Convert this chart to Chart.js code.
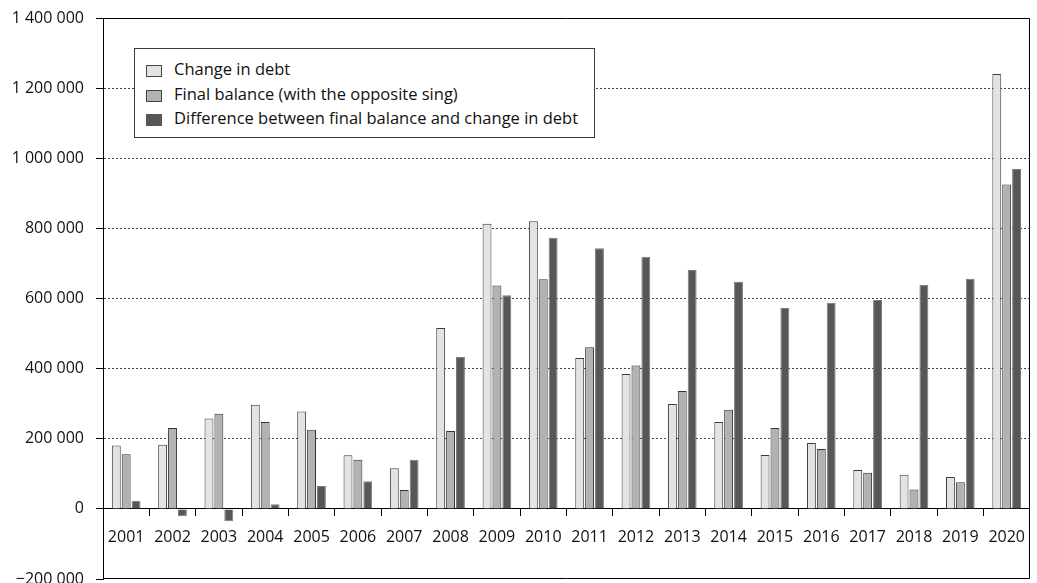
<!DOCTYPE html>
<html>
<head>
<meta charset="utf-8">
<script src="https://cdn.jsdelivr.net/npm/chart.js@4.4.1/dist/chart.umd.min.js"></script>
<style>
  html, body { margin: 0; padding: 0; background: #fff; }
  #wrap { position: relative; width: 1037px; height: 583px; }
  canvas { display: block; }
  #legend {
    position: absolute; left: 134px; top: 48px; width: 459px; height: 88px;
    border: 1px solid #3a3a3a; background: #fff;
    font-family: "Open Sans", sans-serif; font-size: 16.5px; color: #111;
  }
  .item { position: absolute; left: 11px; height: 20px; line-height: 20px; white-space: nowrap; }
  .mk { position: absolute; left: 0; top: 5px; width: 14px; height: 10px; border: 1px solid #444; box-sizing: content-box; }
  .tx { position: absolute; left: 28px; top: -1px; }
</style>
</head>
<body>
<div id="wrap">
  <canvas id="c" width="1037" height="583"></canvas>
  <div id="legend"></div>
</div>
<script>
const years = ["2001","2002","2003","2004","2005","2006","2007","2008","2009","2010",
               "2011","2012","2013","2014","2015","2016","2017","2018","2019","2020"];
const seriesNames = ["Change in debt", "Final balance (with the opposite sing)", "Difference between final balance and change in debt"];
const changeInDebt = [181000, 183000, 258000, 297000, 278000, 153000, 116000, 516000, 813000, 820000,
                      430000, 385000, 299000, 248000, 154000, 188000, 111000, 97000, 91000, 1240000];
const finalBalance = [156000, 231000, 271000, 248000, 226000, 140000, 54000, 222000, 637000, 655000,
                      461000, 409000, 336000, 283000, 231000, 171000, 103000, 55000, 76000, 925000];
const difference = [23000, -21000, -35000, 13000, 65000, 79000, 140000, 434000, 609000, 773000,
                    743000, 719000, 681000, 648000, 573000, 588000, 596000, 639000, 656000, 969000];
const yMin = -200000, yMax = 1400000, yStep = 200000;

const fills = ["#e3e3e3", "#b2b2b2", "#575757"];
const borders = ["#3c3c3c", "#333333", "#7a7a7a"];
const FONT = "'Open Sans', sans-serif";

function fmt(v) {
  const s = Math.abs(v).toString().replace(/\B(?=(\d{3})+(?!\d))/g, " ");
  return (v < 0 ? "\u2212" : "") + s;
}

const boxPlugin = {
  id: "box",
  afterDraw(chart) {
    const a = chart.chartArea, ctx = chart.ctx;
    ctx.save();
    ctx.strokeStyle = "#000";
    ctx.lineWidth = 1;
    const l = Math.round(a.left) + 0.5, r = Math.round(a.right) - 0.5;
    const t = Math.round(a.top) + 0.5, b = Math.round(a.bottom) - 0.5;
    ctx.beginPath();
    ctx.moveTo(l, t); ctx.lineTo(r, t); ctx.lineTo(r, b); ctx.lineTo(l, b);
    ctx.stroke();
    ctx.restore();
  }
};

const datasets = [changeInDebt, finalBalance, difference].map((d, i) => ({
  label: seriesNames[i],
  data: d,
  backgroundColor: fills[i],
  borderColor: borders[i],
  borderWidth: 1,
  categoryPercentage: 0.64,
  barPercentage: 0.9
}));

new Chart(document.getElementById("c"), {
  type: "bar",
  data: { labels: years, datasets },
  options: {
    responsive: false,
    animation: false,
    layout: { padding: { top: 18, bottom: 4, left: 0, right: 1 } },
    plugins: { legend: { display: false }, tooltip: { enabled: false } },
    scales: {
      x: {
        position: { y: 0 },
        offset: true,
        grid: { display: true, drawOnChartArea: false, drawTicks: true, tickLength: 7, offset: true, color: "#000", tickColor: "#000" },
        border: { display: true, color: "#000", width: 1 },
        ticks: { color: "#111", font: { family: FONT, size: 16 }, padding: 12, maxRotation: 0, autoSkip: false }
      },
      y: {
        min: yMin, max: yMax,
        afterFit(scale) { scale.width = 103; scale.paddingTop = 0; scale.paddingBottom = 0; },
        ticks: { stepSize: yStep, color: "#111", font: { family: FONT, size: 16 }, padding: 12,
                 callback: (v) => fmt(v) },
        grid: {
          drawTicks: true, tickLength: 7, tickColor: "#000", tickBorderDash: [],
          color: (ctx) => {
            const v = ctx.tick ? ctx.tick.value : null;
            return (v === yMin || v === yMax || v === 0) ? "rgba(0,0,0,0)" : "#444";
          }
        },
        border: { display: true, color: "#000", width: 1, dash: [2, 2] }
      }
    }
  },
  plugins: [boxPlugin]
});

const legend = document.getElementById("legend");
seriesNames.forEach((name, i) => {
  const it = document.createElement("div");
  it.className = "item";
  it.style.top = (11 + i * 24.5) + "px";
  const mk = document.createElement("span");
  mk.className = "mk";
  mk.style.background = fills[i];
  mk.style.borderColor = i === 2 ? "#575757" : "#444";
  const tx = document.createElement("span");
  tx.className = "tx";
  tx.textContent = name;
  it.appendChild(mk); it.appendChild(tx);
  legend.appendChild(it);
});
</script>
</body>
</html>
